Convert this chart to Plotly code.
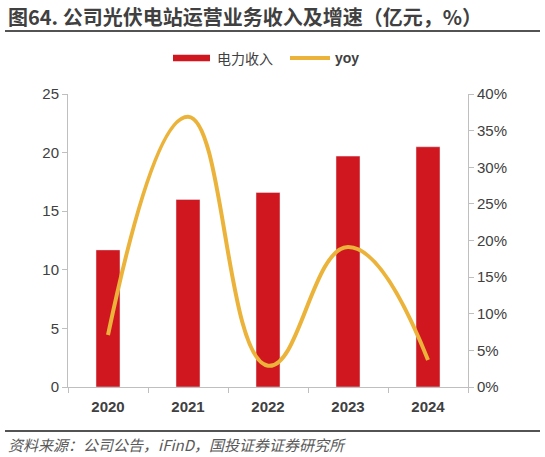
import plotly.graph_objects as go

years = ['2020', '2021', '2022', '2023', '2024']
revenue = [11.7, 16.0, 16.6, 19.7, 20.5]
yoy = [7.1, 36.9, 2.9, 19.1, 3.7]

bar_color = '#D0161E'
line_color = '#EBB33A'
cjk = 'Noto Sans CJK SC'
latin = 'Liberation Sans'

fig = go.Figure()
fig.add_trace(go.Bar(x=years, y=revenue, name='电力收入', marker_color=bar_color,
                     yaxis='y'))
fig.add_trace(go.Scatter(x=years, y=yoy, name='yoy', mode='lines',
                         line=dict(color=line_color, width=4, shape='spline', smoothing=1.3),
                         yaxis='y2'))

fig.update_layout(
    width=545, height=457,
    margin=dict(l=68, r=77, t=94, b=70),
    plot_bgcolor='white', paper_bgcolor='white',
    showlegend=False,
    bargap=0.7,
    xaxis=dict(showline=True, linecolor='#BFBFBF', linewidth=1, ticks='outside',
               tickson='boundaries', tickcolor='#BFBFBF', ticklen=5, ticklabelstandoff=6,
               tickfont=dict(family=latin, size=15, color='#404040'), showgrid=False,
               tickvals=years, ticktext=['<b>%s</b>' % y for y in years]),
    yaxis=dict(range=[0, 25], dtick=5, showline=True, linecolor='#BFBFBF', ticks='outside',
               tickcolor='#BFBFBF', ticklen=5, showgrid=False, zeroline=False,
               tickfont=dict(family=latin, size=15, color='#404040')),
    yaxis2=dict(range=[0, 40], dtick=5, overlaying='y', side='right', ticksuffix='%',
                showline=True, linecolor='#BFBFBF', ticks='outside', tickcolor='#BFBFBF',
                ticklen=5, showgrid=False, zeroline=False,
                tickfont=dict(family=latin, size=15, color='#404040')),
)

# title and underline
fig.add_annotation(xref='paper', yref='paper', x=-0.155, y=1.266, xanchor='left', yanchor='middle',
                   text='<b>图64. 公司光伏电站运营业务收入及增速（亿元，%）</b>', showarrow=False,
                   font=dict(family=cjk, size=20, color='#404040'))
fig.add_shape(type='line', xref='paper', yref='paper', x0=-0.1575, x1=1.18, y0=1.215, y1=1.215,
              line=dict(color='#1a1a1a', width=1.5))

# legend drawn by hand
fig.add_shape(type='rect', xref='paper', yref='paper', x0=0.2625, x1=0.355, y0=1.112, y1=1.134,
              fillcolor=bar_color, line=dict(width=0))
fig.add_annotation(xref='paper', yref='paper', x=0.3675, y=1.123, xanchor='left', yanchor='middle',
                   text='电力收入', showarrow=False, font=dict(family=cjk, size=14, color='#404040'))
fig.add_shape(type='line', xref='paper', yref='paper', x0=0.555, x1=0.655, y0=1.123, y1=1.123,
              line=dict(color=line_color, width=4))
fig.add_annotation(xref='paper', yref='paper', x=0.662, y=1.123, xanchor='left', yanchor='middle',
                   text='<b>yoy</b>', showarrow=False, font=dict(family=latin, size=14, color='#404040'))

# source line
fig.add_shape(type='line', xref='paper', yref='paper', x0=-0.1575, x1=1.18, y0=-0.150, y1=-0.150,
              line=dict(color='#1a1a1a', width=1.5))
fig.add_annotation(xref='paper', yref='paper', x=-0.155, y=-0.195, xanchor='left', yanchor='middle',
                   text='<i>资料来源：公司公告，iFinD，国投证券证券研究所</i>', showarrow=False,
                   font=dict(family=cjk, size=15, color='#595959'))

fig.write_html("out.html", config={'displayModeBar': False},
               post_script="document.body.style.margin='0';")
